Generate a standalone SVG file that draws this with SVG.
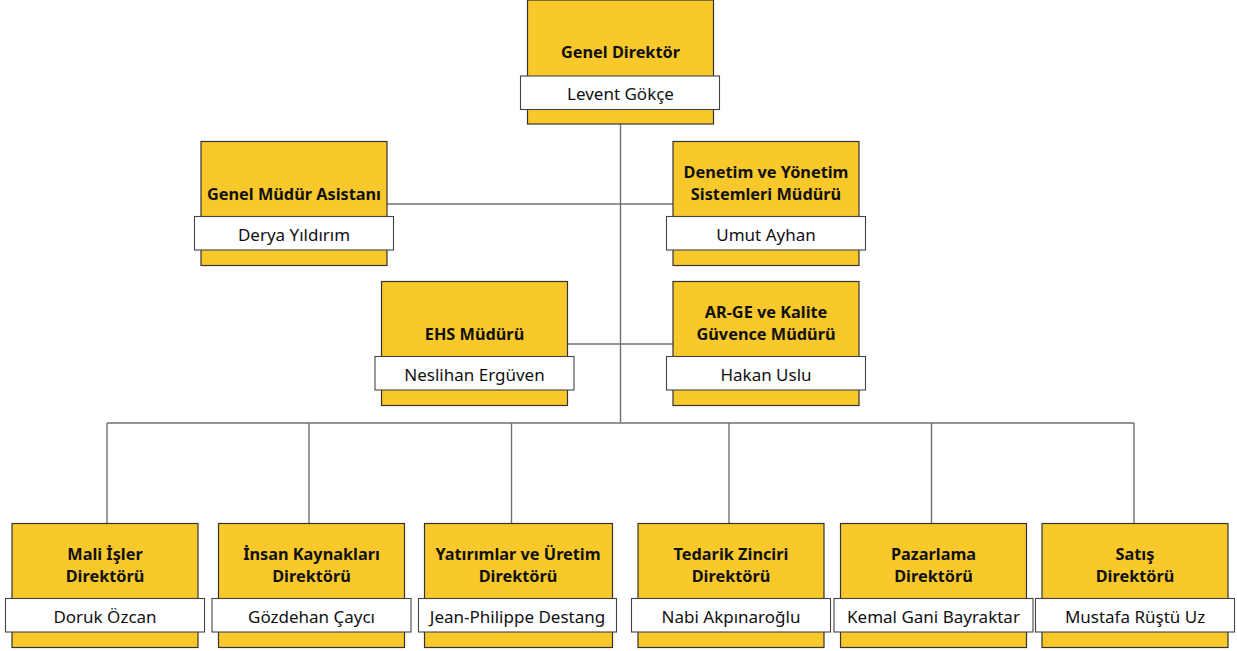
<svg xmlns="http://www.w3.org/2000/svg" width="1237" height="651" viewBox="0 0 1237 651">
<style>
.box{fill:#F9C82B;stroke:#333;stroke-width:1.2}
.lbl{fill:#fff;stroke:#444;stroke-width:1.1}
.t{font-family:"Noto Sans","Open Sans",sans-serif;font-weight:bold;font-size:16.3px;fill:#111;text-anchor:middle}
.n{font-family:"Noto Sans","Open Sans",sans-serif;font-size:17px;fill:#111;text-anchor:middle}
.c{stroke:#707070;stroke-width:1.4;fill:none}
</style>
<rect width="1237" height="651" fill="#fff"/>
<g id="connectors">
<line class="c" x1="620.5" y1="124" x2="620.5" y2="423"/>
<line class="c" x1="386.5" y1="204" x2="673" y2="204"/>
<line class="c" x1="567.5" y1="344" x2="673" y2="344"/>
<line class="c" x1="107" y1="423" x2="1134" y2="423"/>
<line class="c" x1="107" y1="423" x2="107" y2="523.5"/>
<line class="c" x1="309" y1="423" x2="309" y2="523.5"/>
<line class="c" x1="511.5" y1="423" x2="511.5" y2="523.5"/>
<line class="c" x1="729" y1="423" x2="729" y2="523.5"/>
<line class="c" x1="931.5" y1="423" x2="931.5" y2="523.5"/>
<line class="c" x1="1134" y1="423" x2="1134" y2="523.5"/>
</g>
<g id="genel-direktor">
<rect class="box" x="527.5" y="0" width="186" height="124"/>
<text class="t" x="620.5" y="58">Genel Direktör</text>
<rect class="lbl" x="520.5" y="76" width="199" height="33.5"/>
<text class="n" x="620.5" y="100">Levent Gökçe</text>
</g>
<g id="genel-mudur-asistani">
<rect class="box" x="201" y="141.5" width="186" height="124"/>
<text class="t" x="294" y="200">Genel Müdür Asistanı</text>
<rect class="lbl" x="194.5" y="216.5" width="199" height="33.5"/>
<text class="n" x="294" y="241">Derya Yıldırım</text>
</g>
<g id="denetim">
<rect class="box" x="673" y="141.5" width="186" height="124"/>
<text class="t" x="766" y="178">Denetim ve Yönetim</text>
<text class="t" x="766" y="200">Sistemleri Müdürü</text>
<rect class="lbl" x="666.5" y="216.5" width="199" height="33.5"/>
<text class="n" x="766" y="241">Umut Ayhan</text>
</g>
<g id="ehs">
<rect class="box" x="381.5" y="281.5" width="186" height="124"/>
<text class="t" x="474.5" y="340">EHS Müdürü</text>
<rect class="lbl" x="375" y="356.5" width="199" height="33.5"/>
<text class="n" x="474.5" y="381">Neslihan Ergüven</text>
</g>
<g id="arge">
<rect class="box" x="673" y="281.5" width="186" height="124"/>
<text class="t" x="766" y="318">AR-GE ve Kalite</text>
<text class="t" x="766" y="340">Güvence Müdürü</text>
<rect class="lbl" x="666.5" y="356.5" width="199" height="33.5"/>
<text class="n" x="766" y="381">Hakan Uslu</text>
</g>
<g id="mali">
<rect class="box" x="12" y="523.5" width="186" height="124"/>
<text class="t" x="105" y="560">Mali İşler</text>
<text class="t" x="105" y="582">Direktörü</text>
<rect class="lbl" x="5.5" y="598.5" width="199" height="33.5"/>
<text class="n" x="105" y="623">Doruk Özcan</text>
</g>
<g id="insan">
<rect class="box" x="218.5" y="523.5" width="186" height="124"/>
<text class="t" x="311.5" y="560">İnsan Kaynakları</text>
<text class="t" x="311.5" y="582">Direktörü</text>
<rect class="lbl" x="212" y="598.5" width="199" height="33.5"/>
<text class="n" x="311.5" y="623">Gözdehan Çaycı</text>
</g>
<g id="yatirimlar">
<rect class="box" x="424.5" y="523.5" width="188" height="124"/>
<text class="t" x="518" y="560">Yatırımlar ve Üretim</text>
<text class="t" x="518" y="582">Direktörü</text>
<rect class="lbl" x="418.5" y="598.5" width="198" height="33.5"/>
<text class="n" x="517.5" y="623">Jean-Philippe Destang</text>
</g>
<g id="tedarik">
<rect class="box" x="638" y="523.5" width="186" height="124"/>
<text class="t" x="731" y="560">Tedarik Zinciri</text>
<text class="t" x="731" y="582">Direktörü</text>
<rect class="lbl" x="631.5" y="598.5" width="199" height="33.5"/>
<text class="n" x="731" y="623">Nabi Akpınaroğlu</text>
</g>
<g id="pazarlama">
<rect class="box" x="840.5" y="523.5" width="186" height="124"/>
<text class="t" x="933.5" y="560">Pazarlama</text>
<text class="t" x="933.5" y="582">Direktörü</text>
<rect class="lbl" x="834" y="598.5" width="199" height="33.5"/>
<text class="n" x="933.5" y="623">Kemal Gani Bayraktar</text>
</g>
<g id="satis">
<rect class="box" x="1042" y="523.5" width="186" height="124"/>
<text class="t" x="1135" y="560">Satış</text>
<text class="t" x="1135" y="582">Direktörü</text>
<rect class="lbl" x="1035.5" y="598.5" width="199" height="33.5"/>
<text class="n" x="1135" y="623">Mustafa Rüştü Uz</text>
</g>
</svg>
